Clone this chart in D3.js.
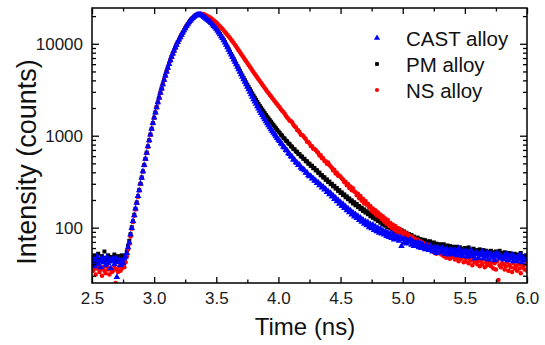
<!DOCTYPE html>
<html>
<head>
<meta charset="utf-8">
<script src="https://cdn.jsdelivr.net/npm/d3@7"></script>
<style>
  body { margin: 0; background: #fff; }
  svg { display: block; font-family: "Liberation Sans", Arial, sans-serif; }
</style>
</head>
<body>
<svg id="chart" width="545" height="345"></svg>
<script>
// time channels (ns)
const time = [
  2.5,2.51,2.52,2.53,2.54,2.55,2.56,2.57,2.58,2.59,
  2.6,2.61,2.62,2.63,2.64,2.65,2.66,2.67,2.68,2.69,
  2.7,2.71,2.72,2.73,2.74,2.75,2.76,2.77,2.78,2.79,
  2.8,2.81,2.82,2.83,2.84,2.85,2.86,2.87,2.88,2.89,
  2.9,2.91,2.92,2.93,2.94,2.95,2.96,2.97,2.98,2.99,
  3.0,3.01,3.02,3.03,3.04,3.05,3.06,3.07,3.08,3.09,
  3.1,3.11,3.12,3.13,3.14,3.15,3.16,3.17,3.18,3.19,
  3.2,3.21,3.22,3.23,3.24,3.25,3.26,3.27,3.28,3.29,
  3.3,3.31,3.32,3.33,3.34,3.35,3.36,3.37,3.38,3.39,
  3.4,3.41,3.42,3.43,3.44,3.45,3.46,3.47,3.48,3.49,
  3.5,3.51,3.52,3.53,3.54,3.55,3.56,3.57,3.58,3.59,
  3.6,3.61,3.62,3.63,3.64,3.65,3.66,3.67,3.68,3.69,
  3.7,3.71,3.72,3.73,3.74,3.75,3.76,3.77,3.78,3.79,
  3.8,3.81,3.82,3.83,3.84,3.85,3.86,3.87,3.88,3.89,
  3.9,3.91,3.92,3.93,3.94,3.95,3.96,3.97,3.98,3.99,
  4.0,4.01,4.02,4.03,4.04,4.05,4.06,4.07,4.08,4.09,
  4.1,4.11,4.12,4.13,4.14,4.15,4.16,4.17,4.18,4.19,
  4.2,4.21,4.22,4.23,4.24,4.25,4.26,4.27,4.28,4.29,
  4.3,4.31,4.32,4.33,4.34,4.35,4.36,4.37,4.38,4.39,
  4.4,4.41,4.42,4.43,4.44,4.45,4.46,4.47,4.48,4.49,
  4.5,4.51,4.52,4.53,4.54,4.55,4.56,4.57,4.58,4.59,
  4.6,4.61,4.62,4.63,4.64,4.65,4.66,4.67,4.68,4.69,
  4.7,4.71,4.72,4.73,4.74,4.75,4.76,4.77,4.78,4.79,
  4.8,4.81,4.82,4.83,4.84,4.85,4.86,4.87,4.88,4.89,
  4.9,4.91,4.92,4.93,4.94,4.95,4.96,4.97,4.98,4.99,
  5.0,5.01,5.02,5.03,5.04,5.05,5.06,5.07,5.08,5.09,
  5.1,5.11,5.12,5.13,5.14,5.15,5.16,5.17,5.18,5.19,
  5.2,5.21,5.22,5.23,5.24,5.25,5.26,5.27,5.28,5.29,
  5.3,5.31,5.32,5.33,5.34,5.35,5.36,5.37,5.38,5.39,
  5.4,5.41,5.42,5.43,5.44,5.45,5.46,5.47,5.48,5.49,
  5.5,5.51,5.52,5.53,5.54,5.55,5.56,5.57,5.58,5.59,
  5.6,5.61,5.62,5.63,5.64,5.65,5.66,5.67,5.68,5.69,
  5.7,5.71,5.72,5.73,5.74,5.75,5.76,5.77,5.78,5.79,
  5.8,5.81,5.82,5.83,5.84,5.85,5.86,5.87,5.88,5.89,
  5.9,5.91,5.92,5.93,5.94,5.95,5.96,5.97,5.98,5.99,
  6.0
];

// intensity (counts) per channel
const castAlloy = [
  41,46,38,44,49,40,43,37,47,42,
  45,39,48,41,44,36,46,43,40,47,
  29,42,45,39,44,41,46,48,53,61,
  69,84,99,118,136,161,186,220,255,301,
  349,411,478,562,652,767,888,1030,1190,1370,
  1570,1790,2040,2310,2600,2920,3260,3630,4050,4500,
  4980,5490,6030,6600,7190,7800,8430,9080,9740,10410,
  11080,11750,12460,13200,13960,14740,15530,16320,17080,17800,
  18470,19080,19620,20080,20450,20700,20800,20750,20500,20100,
  19600,19150,18700,18250,17780,17300,16740,16170,15600,15050,
  14500,13880,13270,12680,12080,11500,10900,10300,9730,9160,
  8600,8094,7617,7168,6746,6350,5966,5606,5268,4950,
  4650,4368,4103,3854,3620,3400,3195,3002,2820,2650,
  2490,2349,2216,2091,1972,1860,1765,1675,1589,1507,
  1430,1362,1297,1235,1176,1120,1073,1027,983,942,
  902,872,826,806,759,741,698,690,645,633,
  597,589,551,546,512,508,478,481,449,436,
  432,421,395,398,371,362,363,341,344,322,
  326,305,309,288,293,272,278,259,263,244,
  249,231,237,218,224,204,211,193,199,181,
  188,172,180,163,170,154,161,147,153,139,
  146,132,140,127,134,121,128,116,122,110,
  117,106,114,101,109,98,107,94,103,91,
  99,88,97,86,93,84,91,81,88,79,
  86,77,85,74,82,76,80,72,78,63,
  75,69,76,67,73,70,74,65,71,63,
  69,64,70,61,67,60,66,62,58,65,
  59,57,64,60,55,62,58,53,61,56,
  59,54,60,57,52,59,55,51,58,54,
  56,52,57,50,55,60,51,54,49,56,
  52,55,48,53,50,57,49,52,46,54,
  51,47,53,50,55,46,51,48,54,45,
  50,52,47,50,44,53,48,51,46,49,
  47,45,50,47,52,44,49,46,51,43,
  48,47,43,49,45,50,42,46,48,44,
  46
];

const pmAlloy = [
  47,43,50,45,41,52,46,44,49,42,
  55,47,44,50,46,43,48,45,51,44,
  47,49,43,46,50,45,48,50,55,63,
  72,85,101,117,138,160,188,219,257,299,
  352,409,481,560,655,765,890,1030,1190,1370,
  1570,1790,2040,2310,2600,2920,3260,3630,4050,4500,
  4980,5490,6030,6600,7190,7800,8430,9080,9740,10410,
  11080,11750,12460,13200,13960,14740,15530,16320,17080,17800,
  18470,19080,19620,20080,20450,20700,20800,20750,20550,20150,
  19650,19200,18750,18300,17830,17350,16800,16230,15670,15120,
  14570,13960,13360,12770,12180,11600,11000,10410,9840,9270,
  8720,8210,7730,7280,6860,6460,6082,5726,5391,5076,
  4780,4514,4262,4025,3801,3590,3396,3213,3039,2875,
  2720,2585,2458,2336,2220,2110,2016,1926,1840,1758,
  1680,1610,1544,1480,1419,1360,1306,1254,1204,1156,
  1110,1078,1024,1001,949,930,884,870,825,811,
  768,759,719,712,675,668,634,630,596,593,
  561,560,528,527,497,496,470,471,443,446,
  420,421,395,397,371,373,351,354,331,335,
  314,317,297,300,281,285,266,270,251,256,
  238,242,226,230,214,219,204,208,193,198,
  183,189,175,181,167,172,159,165,152,158,
  146,151,140,146,133,139,128,135,123,129,
  118,124,113,119,108,115,105,111,101,107,
  98,104,95,101,92,98,90,97,88,94,
  86,91,83,88,80,85,77,83,75,80,
  73,72,78,70,75,68,74,69,73,66,
  71,65,71,67,64,69,62,67,65,61,
  66,63,59,66,61,58,64,60,63,57,
  62,60,56,62,58,55,61,57,59,54,
  60,58,53,61,55,57,52,59,56,54,
  57,52,58,54,51,57,53,56,50,55,
  53,56,51,54,49,55,52,50,56,51,
  53,49,54,50,52,47,53,49,51,48,
  52,50,46,51,48,53,47,49,45,50,
  48
];

const nsAlloy = [
  38,34,37,31,36,39,33,35,30,37,
  34,32,38,35,31,36,33,34,37,25,
  35,33,38,34,36,39,37,42,49,58,
  67,80,97,115,135,158,185,217,254,298,
  348,407,476,557,650,760,885,1025,1185,1365,
  1565,1785,2035,2305,2595,2915,3255,3625,4045,4495,
  4975,5485,6025,6595,7185,7795,8425,9075,9735,10405,
  11075,11745,12455,13195,13955,14735,15525,16315,17090,17830,
  18520,19150,19720,20200,20600,20900,21080,21150,21130,21060,
  20950,20600,20260,19930,19600,19280,18800,18330,17880,17430,
  17000,16460,15930,15420,14930,14450,13930,13420,12940,12470,
  12020,11530,11060,10620,10190,9770,9330,8910,8510,8130,
  7760,7410,7080,6760,6460,6170,5890,5630,5370,5130,
  4900,4690,4490,4300,4110,3940,3770,3610,3450,3300,
  3160,3030,2910,2790,2680,2570,2470,2375,2285,2195,
  2110,2041,1944,1872,1815,1731,1652,1580,1531,1455,
  1442,1401,1318,1271,1239,1152,1138,1090,1025,1019,
  995,951,920,862,852,821,773,770,722,715,
  701,670,652,609,612,570,569,531,529,497,
  510,479,463,449,418,425,389,395,366,370,
  358,343,333,311,316,290,299,270,281,255,
  268,247,242,225,233,209,221,196,206,184,
  195,178,182,166,172,153,162,144,155,136,
  147,131,139,124,133,117,126,110,121,104,
  112,100,108,95,104,91,99,87,96,84,
  90,82,88,78,85,75,81,73,79,70,
  75,68,74,66,71,64,69,62,67,60,
  65,59,64,56,61,54,60,52,58,53,
  57,51,57,49,54,47,53,50,46,52,
  48,50,45,52,47,43,49,46,51,42,
  47,43,48,41,46,44,39,47,42,45,
  40,44,38,43,40,46,37,42,39,44,
  41,38,42,36,41,35,43,27,39,37,
  41,40,35,38,42,34,39,37,33,41,
  36,38,34,40,36,32,39,37,35,40,
  34
];

const seriesNames = ['CAST alloy', 'PM alloy', 'NS alloy'];
const xTicks = [2.5, 3.0, 3.5, 4.0, 4.5, 5.0, 5.5, 6.0];
const xMinor = [2.75, 3.25, 3.75, 4.25, 4.75, 5.25, 5.75];
const yTicks = [100, 1000, 10000];
const yMinor = [30, 40, 50, 60, 70, 80, 90, 200, 300, 400, 500, 600, 700, 800, 900,
  2000, 3000, 4000, 5000, 6000, 7000, 8000, 9000, 20000];

[castAlloy, pmAlloy, nsAlloy].forEach((s, i) => {
  if (s.length !== time.length) throw new Error(seriesNames[i] + ' length ' + s.length + ' vs ' + time.length);
});

const svg = d3.select('#chart');
const plot = { left: 92, right: 527, top: 8, bottom: 283 };

const x = d3.scaleLinear().domain([2.5, 6.0]).range([plot.left, plot.right]);
const y = d3.scaleLog().domain([25, 24500]).range([plot.bottom, plot.top]);

svg.append('rect').attr('width', 545).attr('height', 345).attr('fill', '#fff');

svg.append('clipPath').attr('id', 'clip')
  .append('rect')
  .attr('x', plot.left).attr('y', plot.top)
  .attr('width', plot.right - plot.left).attr('height', plot.bottom - plot.top);

// series: black first, then red, blue on top
const series = [
  { name: 'PM alloy', values: pmAlloy, color: '#000000', shape: d3.symbolSquare, size: 16 },
  { name: 'NS alloy', values: nsAlloy, color: '#ff0000', shape: d3.symbolCircle, size: 16 },
  { name: 'CAST alloy', values: castAlloy, color: '#0000ff', shape: d3.symbolTriangle, size: 19 }
];

const marks = svg.append('g').attr('clip-path', 'url(#clip)');
series.forEach(s => {
  const pts = time.map((t, i) => ({ t: t, v: s.values[i] }));
  marks.append('g')
    .selectAll('path')
    .data(pts)
    .join('path')
    .attr('transform', d => `translate(${x(d.t)},${y(d.v)})`)
    .attr('d', d3.symbol().type(s.shape).size(s.size))
    .attr('fill', s.color);
});

// axes, ticks pointing inward
function styleAxis(g) {
  g.select('.domain').remove();
  g.selectAll('.tick line').attr('stroke', '#000').attr('stroke-width', 1.3);
  g.selectAll('.tick text').attr('fill', '#1a1a1a').style('font-size', '17px')
    .style('font-family', '"Liberation Sans", Arial, sans-serif');
}

svg.append('g')
  .attr('transform', `translate(0,${plot.bottom})`)
  .call(d3.axisBottom(x).tickValues(xTicks).tickSize(-6).tickPadding(9).tickFormat(d3.format('.1f')))
  .call(styleAxis);
svg.append('g')
  .attr('transform', `translate(0,${plot.bottom})`)
  .call(d3.axisBottom(x).tickValues(xMinor).tickSize(-3.5).tickFormat(''))
  .call(styleAxis);
svg.append('g')
  .attr('transform', `translate(0,${plot.top})`)
  .call(d3.axisTop(x).tickValues(xTicks).tickSize(-6).tickFormat(''))
  .call(styleAxis);
svg.append('g')
  .attr('transform', `translate(0,${plot.top})`)
  .call(d3.axisTop(x).tickValues(xMinor).tickSize(-3.5).tickFormat(''))
  .call(styleAxis);

svg.append('g')
  .attr('transform', `translate(${plot.left},0)`)
  .call(d3.axisLeft(y).tickValues(yTicks).tickSize(-7).tickPadding(9).tickFormat(d3.format('d')))
  .call(styleAxis);
svg.append('g')
  .attr('transform', `translate(${plot.left},0)`)
  .call(d3.axisLeft(y).tickValues(yMinor).tickSize(-4).tickFormat(''))
  .call(styleAxis);
svg.append('g')
  .attr('transform', `translate(${plot.right},0)`)
  .call(d3.axisRight(y).tickValues(yTicks).tickSize(-7).tickFormat(''))
  .call(styleAxis);
svg.append('g')
  .attr('transform', `translate(${plot.right},0)`)
  .call(d3.axisRight(y).tickValues(yMinor).tickSize(-4).tickFormat(''))
  .call(styleAxis);

// frame
svg.append('rect')
  .attr('x', plot.left).attr('y', plot.top)
  .attr('width', plot.right - plot.left).attr('height', plot.bottom - plot.top)
  .attr('fill', 'none').attr('stroke', '#000').attr('stroke-width', 1.5);

// axis titles
svg.append('text')
  .attr('x', 305).attr('y', 335)
  .attr('text-anchor', 'middle')
  .style('font-size', '24px').attr('fill', '#111')
  .text('Time (ns)');

svg.append('text')
  .attr('transform', 'translate(36,162) rotate(-90)')
  .attr('text-anchor', 'middle')
  .style('font-size', '27px').attr('fill', '#111')
  .text('Intensity (counts)');

// legend
const legend = svg.append('g');
const legendItems = [
  { name: seriesNames[0], color: '#0000ff', shape: d3.symbolTriangle, size: 17 },
  { name: seriesNames[1], color: '#000000', shape: d3.symbolSquare, size: 14 },
  { name: seriesNames[2], color: '#ff0000', shape: d3.symbolCircle, size: 14 }
];
legendItems.forEach((d, i) => {
  const cy = 38 + i * 26;
  legend.append('path')
    .attr('transform', `translate(377,${cy})`)
    .attr('d', d3.symbol().type(d.shape).size(d.size))
    .attr('fill', d.color);
  legend.append('text')
    .attr('x', 406).attr('y', cy + 7.5)
    .style('font-size', '20.5px').attr('fill', '#111')
    .text(d.name);
});
</script>
</body>
</html>
